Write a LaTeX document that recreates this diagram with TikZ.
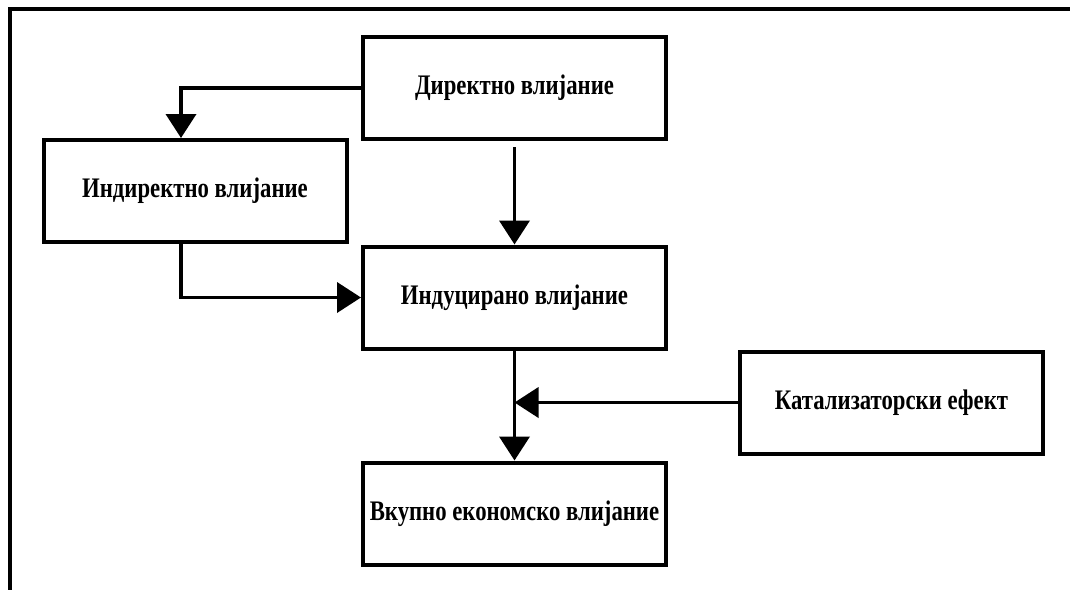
\documentclass[tikz,border=0pt]{standalone}
\usepackage{fontspec}
\setmainfont{Liberation Serif}
\usepackage{tikz}
\usetikzlibrary{arrows.meta}
\newcommand{\tallbold}[1]{\scalebox{0.98}[1.22]{#1}}
\tikzset{
	effectbox/.style={draw=black, line width=2pt, minimum width=151.5pt, minimum height=51pt, inner sep=0pt, font=\bfseries\fontsize{11.6}{13}\selectfont},
	flow/.style={line width=1.9pt, -{Triangle[length=12pt,width=15pt]}},
}

\begin{document}
\begin{tikzpicture}[x=0.5pt, y=-0.5pt]
		%%%%% START %%%%%
		
		\useasboundingbox (0, 0) rectangle (1070, 590);
		\draw[line width=1.6pt] (1070, 9) -- (10, 9) -- (10, 590);
		
		\node[effectbox] (direct) at (514.5, 88) {\tallbold{Директно влијание}};
		\node[effectbox] (indirect) at (195, 191) {\tallbold{Индиректно влијание}};
		\node[effectbox] (induced) at (514.5, 297.5) {\tallbold{Индуцирано влијание}};
		\node[effectbox] (catalytic) at (891.5, 402.5) {\tallbold{Катализаторски ефект}};
		\node[effectbox] (total) at (514.5, 513.5) {\tallbold{Вкупно економско влијание}};
		
		\coordinate (split) at (181, 140);
		\coordinate (merge) at (181, 242);
		
		\draw[flow] (direct.west) -| (indirect.north -| split);
		\draw[flow] (direct.south) ++(0, 6) -- (induced.north);
		\draw[flow] (merge) |- (induced.west);
		\draw[flow] (induced.south) -- (total.north);
		\draw[flow] (catalytic.west) -- (induced.south |- catalytic.west);
		
		%%%%% END %%%%%
	\end{tikzpicture}
\end{document}
